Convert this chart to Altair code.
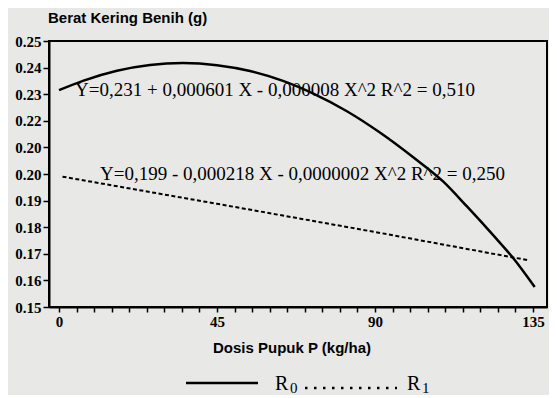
import altair as alt
import pandas as pd

# ---- data ----
r0_x = [0, 6.8, 16.5, 25.9, 35.3, 45, 54.4, 63.8, 72.3, 82, 91.4, 100.8, 109.4,
        116.2, 123.6, 129.3, 135.5]
r0_y = [0.2315, 0.2350, 0.2388, 0.2410, 0.2417, 0.2409, 0.2387, 0.2350, 0.2303,
        0.2236, 0.2156, 0.2064, 0.1972, 0.1878, 0.1771, 0.1685, 0.1575]
r1_x = [1, 45, 90, 134]
r1_y = [0.1990, 0.1888, 0.1782, 0.1675]

y_ticks = [0.15, 0.16, 0.17, 0.18, 0.19, 0.20, 0.21, 0.22, 0.23, 0.24, 0.25]
y_tick_labels = ["0.15", "0.16", "0.17", "0.18", "0.19", "0.20", "0.20",
                 "0.22", "0.23", "0.24", "0.25"]
x_ticks = list(range(0, 136, 5))
x_label_values = [0, 45, 90, 135]

eq_r0 = "Y=0,231 + 0,000601 X - 0,000008 X^2 R^2 = 0,510"
eq_r1 = "Y=0,199 - 0,000218 X - 0,0000002 X^2 R^2 = 0,250"
y_title = "Berat Kering Benih (g)"
x_title = "Dosis Pupuk P (kg/ha)"

W, H = 498, 266

df0 = pd.DataFrame({"x": r0_x, "y": r0_y})
df1 = pd.DataFrame({"x": r1_x, "y": r1_y})

y_label_expr = "[" + ",".join("'%s'" % s for s in y_tick_labels) + "][round(datum.value*100)-15]"
x_label_expr = "indexof([" + ",".join(str(v) for v in x_label_values) + "], datum.value) >= 0 ? datum.label : ''"

xs = alt.Scale(domain=[-2.85, 139.0], nice=False, zero=False)
ys = alt.Scale(domain=[0.15, 0.25], nice=False, zero=False)

def xaxis():
    return alt.Axis(values=x_ticks, labelExpr=x_label_expr, title=None, grid=False,
                    labelFont="Liberation Serif", labelFontWeight="bold", labelFontSize=15,
                    labelColor="black", domainColor="black", domainWidth=2,
                    tickColor="black", tickWidth=1.5, tickSize=5, labelPadding=2,
                    labelFlush=False, labelOverlap=False)

def yaxis():
    return alt.Axis(values=y_ticks, labelExpr=y_label_expr, title=None, grid=False,
                    labelFont="Liberation Serif", labelFontWeight="bold", labelFontSize=15,
                    labelColor="black", domainColor="black", domainWidth=2,
                    tickColor="black", tickWidth=1.5, tickSize=6, labelPadding=2,
                    labelFlush=False, labelOverlap=False)

line0 = alt.Chart(df0).mark_line(color="black", strokeWidth=2.5, interpolate="monotone").encode(
    x=alt.X("x:Q", scale=xs, axis=xaxis()), y=alt.Y("y:Q", scale=ys, axis=yaxis()))
line1 = alt.Chart(df1).mark_line(color="black", strokeWidth=2, strokeDash=[4, 2.5]).encode(
    x=alt.X("x:Q", scale=xs, axis=xaxis()), y=alt.Y("y:Q", scale=ys, axis=yaxis()))

def txt(t, x, y, size, font="Liberation Serif", weight="normal", align="left", baseline="middle"):
    return alt.Chart(pd.DataFrame({"t": [t]})).mark_text(
        font=font, fontSize=size, fontWeight=weight, align=align, baseline=baseline,
        color="black").encode(x=alt.value(x), y=alt.value(y), text="t:N")

layers = [line0, line1,
          txt(eq_r0, 26, 49, 19),
          txt(eq_r1, 51, 133, 19),
          txt(y_title, -1, -23, 15, font="Liberation Sans", weight="bold"),
          txt(x_title, 243, 307, 15, font="Liberation Sans", weight="bold", align="center"),
          # legend
          alt.Chart(pd.DataFrame({"a": [0]})).mark_rule(color="black", strokeWidth=2.5).encode(
              x=alt.value(137), x2=alt.value(209), y=alt.value(342)),
          txt("R", 226, 349, 20, baseline="alphabetic"),
          txt("0", 241, 352, 15, baseline="alphabetic"),
          alt.Chart(pd.DataFrame({"a": [0]})).mark_rule(color="black", strokeWidth=2.5,
                                                       strokeDash=[2.5, 6.5]).encode(
              x=alt.value(256), x2=alt.value(348), y=alt.value(347)),
          txt("R", 358, 349, 20, baseline="alphabetic"),
          txt("1", 373, 352, 15, baseline="alphabetic"),
          ]

chart = alt.layer(*layers).properties(
    width=W, height=H,
    autosize=alt.AutoSizeParams(type="none"),
    padding={"left": 41, "top": 33, "right": 2, "bottom": 88},
    background="#e8e8e6",
).configure_view(stroke="black", strokeWidth=2).configure_axis(labelOverlap=False)

chart.save("out.html", embed_options={"renderer": "svg", "actions": False})
